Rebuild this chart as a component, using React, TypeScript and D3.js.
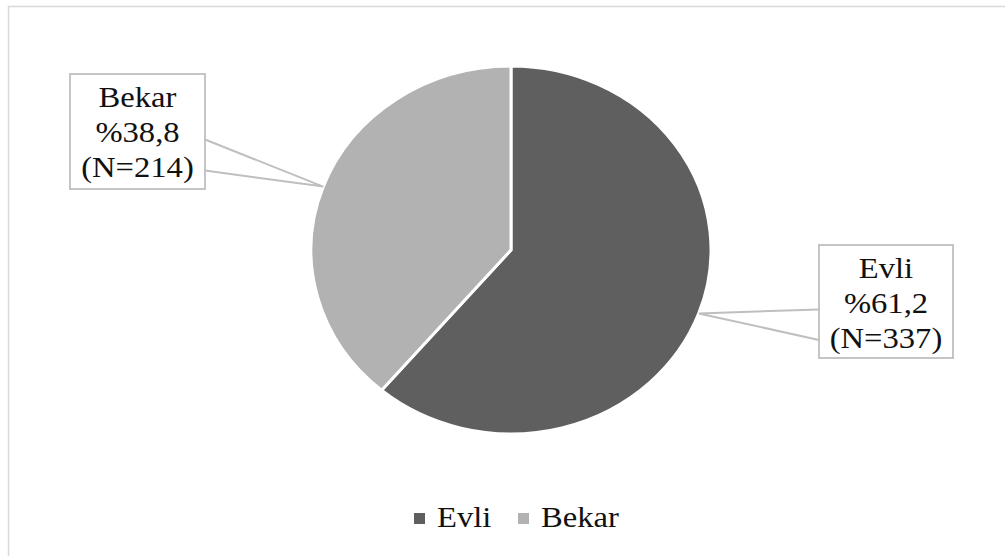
import React from "react";
import * as d3 from "d3";

// chart data
const categories = ["Evli", "Bekar"];
const percents = [61.2, 38.8];
const counts = [337, 214];
const colors = ["#5f5f5f", "#b2b2b2"];

const W = 1005;
const H = 556;
const cx = 511;
const cy = 250;
const ry = 184;
const sx = 200 / 184; // picture is stretched horizontally
const font = "'Liberation Serif', 'Times New Roman', serif";

// label box layout (box left, top, width, height) per category
const boxes = [
  { x: 819, y: 245, w: 134, h: 113 },
  { x: 70, y: 74, w: 135, h: 115 },
];

export default function App() {
  const pie = d3
    .pie<number>()
    .sort(null)
    .value((d) => d);
  const arcs = pie(percents);
  const arc = d3.arc<d3.PieArcDatum<number>>().innerRadius(0).outerRadius(ry);

  return (
    <svg
      width={W}
      height={H}
      style={{ position: "fixed", left: 0, top: 0, background: "#fff" }}
    >
      {/* outer frame */}
      <rect x={8.5} y={6.5} width={W} height={H} fill="none" stroke="#d9d9d9" strokeWidth={1.5} />

      {/* slices */}
      <g transform={`translate(${cx},${cy}) scale(${sx},1)`}>
        {arcs.map((a, i) => (
          <path
            key={categories[i]}
            d={arc(a) || ""}
            fill={colors[i]}
            stroke="#fff"
            strokeWidth={3}
            vectorEffect="non-scaling-stroke"
          />
        ))}
      </g>

      {/* callout labels */}
      {arcs.map((a, i) => {
        const mid = (a.startAngle + a.endAngle) / 2;
        const px = cx + ry * sx * Math.sin(mid);
        const py = cy - ry * Math.cos(mid);
        const b = boxes[i];
        const right = px > b.x + b.w;
        const ex = right ? b.x + b.w : b.x;
        const y1 = b.y + b.h * 0.57;
        const y2 = b.y + b.h * 0.84;
        const lines = [
          categories[i],
          `%${percents[i].toFixed(1).replace(".", ",")}`,
          `(N=${counts[i]})`,
        ];
        return (
          <g key={categories[i]}>
            <polyline
              points={`${ex},${y1} ${px},${py} ${ex},${y2}`}
              fill="none"
              stroke="#bfbfbf"
              strokeWidth={2}
            />
            <rect x={b.x} y={b.y} width={b.w} height={b.h} fill="#fff" stroke="#bfbfbf" strokeWidth={1.8} />
            {lines.map((t, j) => (
              <text
                key={j}
                transform={`translate(${b.x + b.w / 2},${b.y + 33 + j * 35}) scale(${sx},1)`}
                textAnchor="middle"
                fontFamily={font}
                fontSize={30}
                fill="#111"
              >
                {t}
              </text>
            ))}
          </g>
        );
      })}

      {/* legend */}
      {categories.map((c, i) => {
        const lx = [414, 518][i];
        return (
          <g key={c}>
            <rect x={lx} y={513} width={11} height={11} fill={colors[i]} />
            <text
              transform={`translate(${lx + 23},527) scale(${sx},1)`}
              fontFamily={font}
              fontSize={30}
              fill="#111"
            >
              {c}
            </text>
          </g>
        );
      })}
    </svg>
  );
}
